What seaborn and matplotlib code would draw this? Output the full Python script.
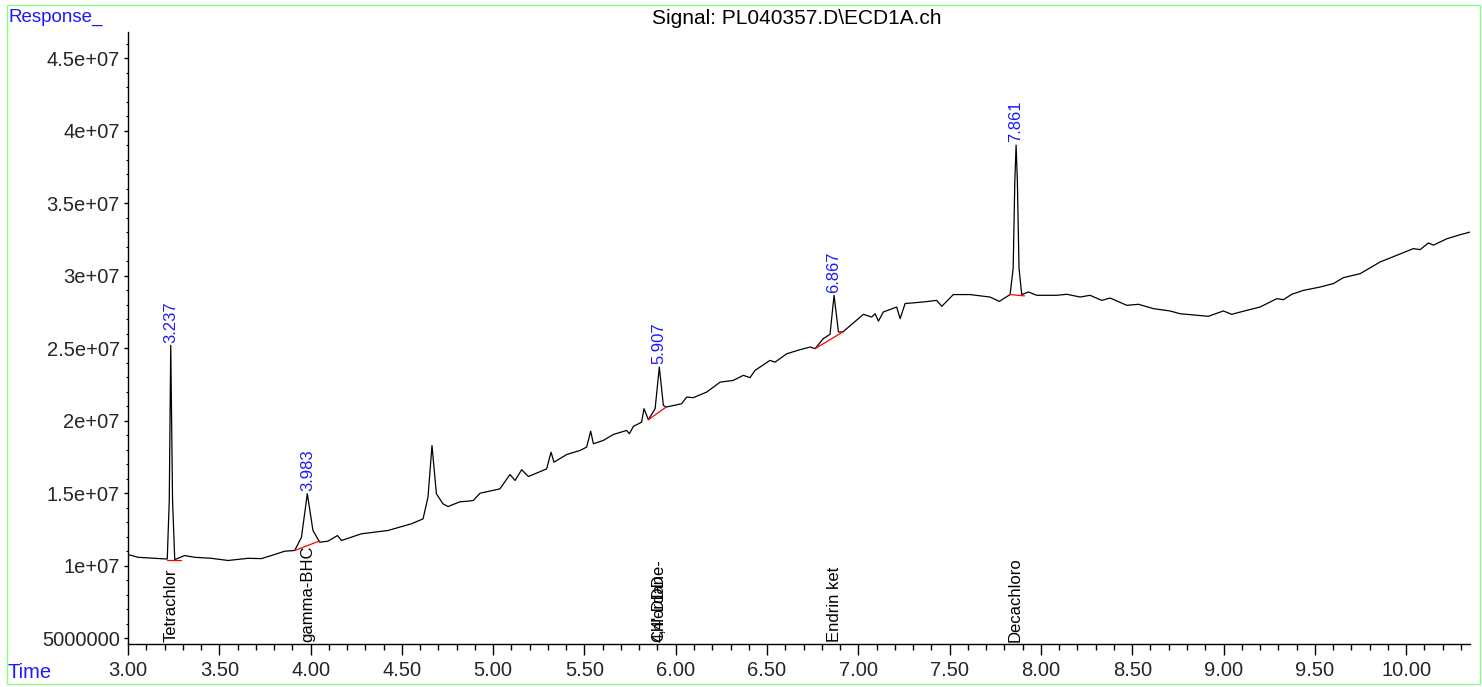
import matplotlib
matplotlib.use("Agg")
import numpy as np
import pandas as pd
import matplotlib.pyplot as plt
import seaborn as sns
from matplotlib.ticker import MultipleLocator, FixedLocator
from matplotlib.patches import Rectangle

# ---------------- data ----------------
time_min = [
    3.000, 3.055, 3.200, 3.215, 3.226, 3.234, 3.244, 3.256, 3.310, 3.365,
    3.456, 3.548, 3.657, 3.730, 3.785, 3.858, 3.913, 3.950, 3.982, 4.013,
    4.050, 4.095, 4.147, 4.170, 4.278, 4.424, 4.552, 4.616, 4.643, 4.665,
    4.689, 4.725, 4.753, 4.818, 4.862, 4.891, 4.928, 5.037, 5.092, 5.120,
    5.156, 5.193, 5.293, 5.317, 5.333, 5.403, 5.476, 5.512, 5.534, 5.549,
    5.603, 5.658, 5.731, 5.746, 5.768, 5.813, 5.826, 5.850, 5.887, 5.910,
    5.932, 5.947, 6.032, 6.060, 6.096, 6.170, 6.243, 6.315, 6.370, 6.407,
    6.434, 6.516, 6.544, 6.608, 6.681, 6.736, 6.763, 6.808, 6.845, 6.867,
    6.891, 6.915, 7.028, 7.073, 7.092, 7.110, 7.137, 7.210, 7.229, 7.256,
    7.356, 7.429, 7.457, 7.520, 7.612, 7.721, 7.772, 7.831, 7.848, 7.857,
    7.864, 7.871, 7.880, 7.895, 7.932, 7.977, 8.087, 8.142, 8.215, 8.269,
    8.333, 8.379, 8.470, 8.534, 8.616, 8.707, 8.762, 8.853, 8.917, 8.999,
    9.045, 9.127, 9.200, 9.292, 9.328, 9.374, 9.438, 9.529, 9.602, 9.657,
    9.748, 9.858, 9.949, 10.040, 10.077, 10.122, 10.150, 10.223, 10.296, 10.350,
]
response_1e6 = [
    10.76, 10.57, 10.46, 10.45, 14.50, 25.19, 14.50, 10.41, 10.69, 10.57,
    10.50, 10.35, 10.50, 10.48, 10.69, 10.99, 11.04, 11.95, 14.95, 12.42,
    11.61, 11.68, 12.07, 11.73, 12.19, 12.42, 12.88, 13.22, 14.72, 18.28,
    14.95, 14.26, 14.07, 14.40, 14.44, 14.49, 14.99, 15.29, 16.28, 15.87,
    16.61, 16.14, 16.67, 17.82, 17.13, 17.66, 17.94, 18.17, 19.27, 18.40,
    18.63, 19.04, 19.32, 19.09, 19.60, 19.89, 20.82, 20.06, 20.82, 23.69,
    21.05, 20.93, 21.16, 21.62, 21.58, 21.97, 22.65, 22.77, 23.12, 22.96,
    23.46, 24.15, 24.03, 24.61, 24.89, 25.07, 24.96, 25.65, 25.95, 28.64,
    26.11, 26.11, 27.33, 27.14, 27.37, 26.86, 27.49, 27.83, 27.03, 28.07,
    28.18, 28.29, 27.88, 28.69, 28.69, 28.52, 28.22, 28.69, 30.50, 36.50,
    39.00, 36.50, 30.50, 28.69, 28.87, 28.64, 28.64, 28.71, 28.52, 28.64,
    28.29, 28.45, 27.95, 28.02, 27.72, 27.56, 27.37, 27.26, 27.19, 27.56,
    27.33, 27.60, 27.83, 28.41, 28.34, 28.71, 28.98, 29.21, 29.45, 29.86,
    30.13, 30.94, 31.40, 31.86, 31.79, 32.25, 32.10, 32.54, 32.82, 33.00,
]

# integrated peaks: retention time label and baseline (start/end) segments
peak_rt = [3.237, 3.983, 5.907, 6.867, 7.861]
peak_labels = ["3.237", "3.983", "5.907", "6.867", "7.861"]
base_t0 = [3.215, 3.913, 5.850, 6.763, 7.831]
base_t1 = [3.292, 4.050, 5.947, 6.915, 7.910]
base_v0_1e6 = [10.40, 11.04, 20.06, 24.96, 28.69]
base_v1_1e6 = [10.40, 11.70, 20.93, 26.11, 28.60]

# compound names printed along the time axis
compound_rt = [3.237, 3.983, 5.907, 5.907, 6.867, 7.861]
compound_names = ["Tetrachlor", "gamma-BHC", "Chlordane-", "4,4'-DDD",
                  "Endrin ket", "Decachloro"]

x_ticks = [3.0, 3.5, 4.0, 4.5, 5.0, 5.5, 6.0, 6.5, 7.0, 7.5, 8.0, 8.5, 9.0, 9.5, 10.0]
x_tick_labels = ["3.00", "3.50", "4.00", "4.50", "5.00", "5.50", "6.00", "6.50",
                 "7.00", "7.50", "8.00", "8.50", "9.00", "9.50", "10.00"]
y_ticks = [5e6, 1e7, 1.5e7, 2e7, 2.5e7, 3e7, 3.5e7, 4e7, 4.5e7]
y_tick_labels = ["5000000", "1e+07", "1.5e+07", "2e+07", "2.5e+07", "3e+07",
                 "3.5e+07", "4e+07", "4.5e+07"]

title_text = "Signal: PL040357.D\\ECD1A.ch"

# ---------------- plotting ----------------
sns.set_theme(style="white")
plt.rcParams["font.family"] = ["Liberation Sans", "DejaVu Sans"]

W, H = 1482, 687
fig = plt.figure(figsize=(W / 100, H / 100), dpi=100)
ax = fig.add_axes([128 / W, 43 / H, (1470 - 128) / W, (644 - 32) / H])

df = pd.DataFrame({"time": time_min, "response": np.array(response_1e6) * 1e6})
sns.lineplot(data=df, x="time", y="response", ax=ax, color="black",
             linewidth=0.9, sort=False, estimator=None)

for t0, t1, v0, v1 in zip(base_t0, base_t1, base_v0_1e6, base_v1_1e6):
    ax.plot([t0, t1], [v0 * 1e6, v1 * 1e6], color="red", linewidth=0.9)

t_arr = np.array(time_min)
r_arr = np.array(response_1e6) * 1e6
for rt, lab in zip(peak_rt, peak_labels):
    sel = np.abs(t_arr - rt) < 0.02
    apex = r_arr[sel].max()
    ax.annotate(lab, xy=(rt, apex), xytext=(0, 2), textcoords="offset points",
                rotation=90, ha="center", va="bottom", color="#1a1aff",
                fontsize=12)

for rt, name in zip(compound_rt, compound_names):
    ax.annotate(name, xy=(rt, 0), xycoords=("data", "axes fraction"),
                xytext=(0, 1.5), textcoords="offset points",
                rotation=90, ha="center", va="bottom", color="black",
                fontsize=12)

ax.set_xlim(3.0, 10.35)
ax.set_ylim(4.59e6, 4.68e7)
ax.xaxis.set_major_locator(FixedLocator(x_ticks))
ax.set_xticklabels(x_tick_labels)
ax.xaxis.set_minor_locator(MultipleLocator(0.1))
ax.yaxis.set_major_locator(FixedLocator(y_ticks))
ax.set_yticklabels(y_tick_labels)
ax.yaxis.set_minor_locator(MultipleLocator(1e6))
ax.set_xlabel("")
ax.set_ylabel("")

for side in ["top", "right"]:
    ax.spines[side].set_visible(False)
for side in ["left", "bottom"]:
    ax.spines[side].set_color("black")
    ax.spines[side].set_linewidth(1.0)

ax.tick_params(axis="x", which="major", direction="out", length=8, width=1,
               labelsize=14.5, pad=4, color="black", bottom=True)
ax.tick_params(axis="x", which="minor", direction="out", length=4.5, width=1,
               color="black", bottom=True)
ax.tick_params(axis="y", which="major", direction="out", length=3, width=1,
               labelsize=14.5, pad=3, color="black", left=True)
ax.tick_params(axis="y", which="minor", direction="out", length=1.5, width=0.8,
               color="black", left=True)

fig.text(797 / W, 1 - 19 / H, title_text, ha="center", va="center",
         fontsize=15, color="black")
fig.text(8 / W, 1 - 17 / H, "Response_", ha="left", va="center",
         fontsize=13.5, color="#1a1aff")
fig.text(8 / W, 1 - 672 / H, "Time", ha="left", va="center",
         fontsize=14.5, color="#1a1aff")

fig.add_artist(Rectangle((7 / W, 3 / H), (1480 - 7) / W, (684 - 5) / H,
                         transform=fig.transFigure, fill=False,
                         edgecolor="#80ff80", linewidth=1.0))

fig.savefig("out.png", dpi=100)
